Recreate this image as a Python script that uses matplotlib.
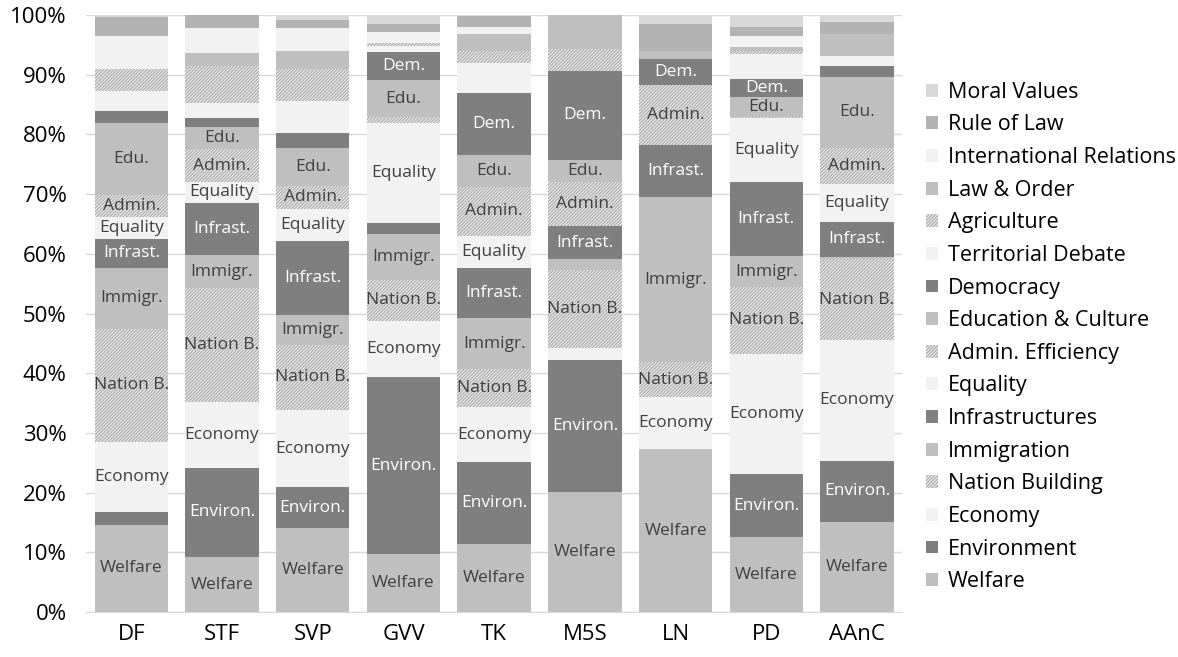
import numpy as np
import matplotlib
matplotlib.use('Agg')
import matplotlib.pyplot as plt

plt.rcParams['font.family'] = ['Open Sans', 'DejaVu Sans']
plt.rcParams['hatch.color'] = '#b0b0b0'
plt.rcParams['hatch.linewidth'] = 1.0

parties = ['DF', 'STF', 'SVP', 'GVV', 'TK', 'M5S', 'LN', 'PD', 'AAnC']

categories = ['Welfare', 'Environment', 'Economy', 'Nation Building', 'Immigration',
              'Infrastructures', 'Equality', 'Admin. Efficiency', 'Education & Culture',
              'Democracy', 'Territorial Debate', 'Agriculture', 'Law & Order',
              'International Relations', 'Rule of Law', 'Moral Values']

short = ['Welfare', 'Environ.', 'Economy', 'Nation B.', 'Immigr.', 'Infrast.',
         'Equality', 'Admin.', 'Edu.', 'Dem.']

# shares (%) per party, one list per category, parties in order above
welfare      = [14.6,  9.2, 14.0,  9.7, 11.4, 20.1, 27.3, 12.5, 15.1]
environment  = [ 2.2, 15.0,  6.9, 29.6, 13.7, 22.2,  0.0, 10.6, 10.2]
economy      = [11.7, 11.0, 12.9,  9.5,  9.2,  1.9,  8.8, 20.2, 20.3]
nation_b     = [18.9, 19.0, 11.0,  6.9,  6.4, 13.1,  5.7, 11.1, 13.5]
immigration  = [10.3,  5.6,  4.9,  7.7,  8.5,  1.8, 27.7,  5.2,  0.4]
infrast      = [ 4.8,  8.8, 12.5,  1.7,  8.5,  5.6,  8.7, 12.5,  5.9]
equality     = [ 3.7,  3.4,  5.3, 16.9,  5.3,  0.0,  0.0, 10.6,  6.3]
admin        = [ 3.6,  5.6,  3.9,  0.9,  8.2,  7.4, 10.1,  0.2,  6.0]
education    = [12.1,  3.6,  6.4,  6.2,  5.3,  3.7,  0.0,  3.3, 12.0]
democracy    = [ 2.0,  1.5,  2.4,  4.8, 10.5, 14.9,  4.3,  3.1,  1.8]
territorial  = [ 3.4,  2.6,  5.4,  1.0,  4.9,  0.0,  0.0,  4.2,  1.7]
agriculture  = [ 3.6,  6.2,  5.4,  0.5,  2.1,  3.6,  0.0,  0.5,  0.0]
law_order    = [ 0.0,  2.2,  3.0,  0.0,  2.8,  5.7,  1.4,  0.7,  3.6]
intl_rel     = [ 5.6,  4.2,  3.9,  1.8,  1.2,  0.0,  0.0,  1.8,  0.0]
rule_of_law  = [ 3.1,  2.1,  1.3,  1.3,  1.8,  0.0,  4.5,  1.5,  2.1]
moral_values = [ 0.4,  0.0,  0.8,  1.5,  0.2,  0.0,  1.5,  2.0,  1.1]

series = [welfare, environment, economy, nation_b, immigration, infrast, equality,
          admin, education, democracy, territorial, agriculture, law_order,
          intl_rel, rule_of_law, moral_values]

colors = ['#bfbfbf', '#7f7f7f', '#f2f2f2', '#f2f2f2', '#bfbfbf', '#7f7f7f', '#f2f2f2',
          '#f2f2f2', '#bfbfbf', '#7f7f7f', '#f2f2f2', '#f2f2f2', '#bfbfbf', '#f2f2f2',
          '#b3b3b3', '#d9d9d9']
hatched = [False, False, False, True, False, False, False, True, False, False,
           False, True, False, False, False, False]
dark = [False, True, False, False, False, True, False, False, False, True,
        False, False, False, False, False, False]

fig = plt.figure(figsize=(11.78, 6.57), dpi=100)
ax = fig.add_axes([0.073, 0.0685, 0.693, 0.9085])

x = np.arange(len(parties))
bottom = np.zeros(len(parties))
for k, vals in enumerate(series):
    vals = np.array(vals)
    if hatched[k]:
        ax.bar(x, vals, 0.81, bottom=bottom, color=colors[k], hatch='/' * 10,
               linewidth=0, label=categories[k], zorder=2)
    else:
        ax.bar(x, vals, 0.81, bottom=bottom, color=colors[k], linewidth=0,
               label=categories[k], zorder=2)
    if k < len(short):
        for i in range(len(parties)):
            if vals[i] >= 3:
                ax.text(x[i], bottom[i] + vals[i] / 2, short[k], ha='center', va='center',
                        fontsize=12.5, color='white' if dark[k] else '#404040', zorder=3)
    bottom = bottom + vals

ax.set_xlim(-0.5, len(parties) - 0.5)
ax.set_ylim(0, 100)
ax.set_yticks(np.arange(0, 101, 10))
ax.set_yticklabels(['%d%%' % v for v in range(0, 101, 10)], fontsize=16)
ax.set_xticks(x)
ax.set_xticklabels(parties, fontsize=16)
ax.tick_params(axis='y', length=0, pad=14)
ax.tick_params(axis='x', length=0, pad=9)
ax.yaxis.grid(True, color='#d9d9d9', linewidth=1, zorder=0)
ax.set_axisbelow(True)
for s in ['top', 'right', 'left']:
    ax.spines[s].set_visible(False)
ax.spines['bottom'].set_color('#d9d9d9')

h, l = ax.get_legend_handles_labels()
fig.legend(h[::-1], l[::-1], loc='center left', bbox_to_anchor=(0.77, 0.487),
           frameon=False, fontsize=15.5, handlelength=0.55, handleheight=0.55,
           handletextpad=0.45, labelspacing=0.54)

fig.savefig('out.png', dpi=100)
